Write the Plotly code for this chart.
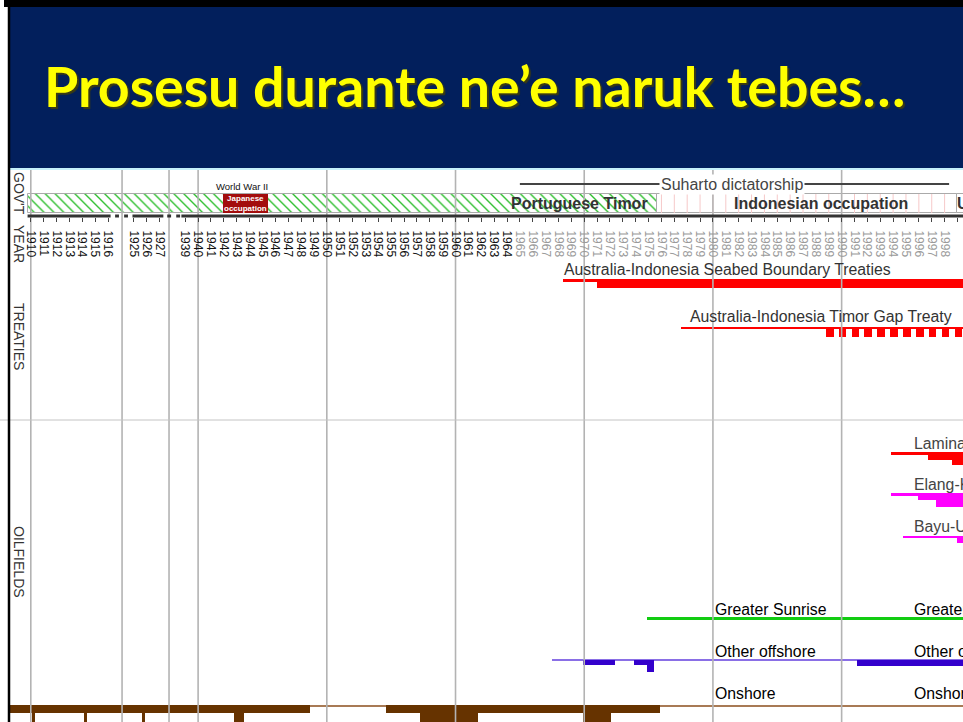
import plotly.graph_objects as go

# ---------------- data ----------------
TITLE = "Prosesu durante ne’e naruk tebes…"

tick_years = [1910, 1911, 1912, 1913, 1914, 1915, 1916,
              1925, 1926, 1927] + list(range(1939, 2000))
grey_from_year = 1965
grid_years = [1910, 1940, 1950, 1960, 1970, 1980, 1990, 2000]

section_labels = ["GOV'T", "YEAR", "TREATIES", "OILFIELDS"]

govt_labels = ["Portuguese Timor", "Indonesian occupation", "U"]
govt_start = [1909.8, 1975.65, 1998.95]
govt_end = [1975.65, 1998.95, 2004.0]

japan_start, japan_end = 1941.9, 1945.45
suharto_start, suharto_end = 1965.0, 1998.35

# treaties (start year, thickness)
seabed_start = [1968.35, 1971.0]
seabed_thick = [3, 9]
timorgap_line_start = 1977.5
timorgap_teeth_start = [1988.77, 1989.77, 1990.77, 1991.77, 1992.77, 1993.77,
                        1994.77, 1995.77, 1996.77, 1997.77, 1998.77]
timorgap_teeth_len = 0.6
timorgap_mark = [1999.7, 2000.05]

# oilfields: step starts and thicknesses
laminaria_start = [1993.8, 1996.7, 1998.6]
laminaria_thick = [3, 8, 13]
elang_start = [1993.8, 1995.9, 1997.3]
elang_thick = [2.7, 6.7, 13.7]
bayu_start = [1994.8, 1999.0]
bayu_thick = [2.3, 7]
sunrise_start = [1974.9]
sunrise_thick = [2.5]
offshore_line_start = 1967.5
offshore_start = [1969.9, 1973.9, 1974.9, 1991.2]
offshore_end = [1972.4, 1975.4, 1975.4, 2004.0]
offshore_thick = [5, 5, 12, 6]
onshore_start = [1905.0, 1910.1, 1914.1, 1925.64, 1942.8, 1954.63, 1957.27, 1969.9]
onshore_end = [1948.7, 1910.3, 1914.35, 1925.88, 1943.6, 1975.89, 1961.78, 1972.1]
onshore_thick = [8, 20, 20, 20, 20, 8, 20, 20]
field_names = ["Greater Sunrise", "Other offshore", "Onshore"]
field_label_years = [1980.1, 1995.6]

END = 2004.0

# ---------------- helpers ----------------
def pos(year):
    """broken time axis: 1910-1916, 1925-1927, 1939-..."""
    if year >= 1939:
        return 12 + (year - 1939)
    if year >= 1925:
        return 8 + (year - 1925)
    return year - 1910

FONT = "Arial, Liberation Sans, sans-serif"
W, H = 963, 722
X0, X1 = -2.393, 72.43
break_lines = [7.09, 10.74]
rows = dict(wwii=186, suharto=184, govt_top=194, govt_h=19, axis=216,
            seabed_txt=269, seabed=279, tg_txt=316, tg=326.7,
            section=420, lam_txt=443, lam=452, elang_txt=484, elang=493.3,
            bayu_txt=526, bayu=536, sunrise_txt=609, sunrise=617,
            off_txt=651, off=659.5, on_txt=693, on=705)
LBL = 15.8  # label font size

def hbars(starts, ends, top, thick, color, line=None, pattern=None):
    m = dict(color=color, line=dict(width=0))
    if line:
        m["line"] = line
    if pattern:
        m["pattern"] = pattern
    return go.Bar(orientation="h",
                  base=[pos(s) for s in starts],
                  x=[pos(e) - pos(s) for s, e in zip(starts, ends)],
                  y=[top] * len(starts), width=list(thick), offset=0,
                  marker=m, hoverinfo="skip", showlegend=False)

fig = go.Figure()

# pink year lines in the Indonesian occupation band
px_, py_ = [], []
for yr in range(1976, 1999):
    px_ += [pos(yr), pos(yr), None]
    py_ += [rows["govt_top"], rows["govt_top"] + rows["govt_h"], None]
fig.add_trace(go.Scatter(x=px_, y=py_, mode="lines", line=dict(color="#f6c9c9", width=1),
                         hoverinfo="skip", showlegend=False))

# vertical grid lines
gx, gy = [], []
for g in [pos(y) for y in grid_years] + break_lines:
    gx += [g, g, None]
    gy += [170, H, None]
fig.add_trace(go.Scatter(x=gx, y=gy, mode="lines", line=dict(color="#b3b3b3", width=1.6),
                         hoverinfo="skip", showlegend=False))

# government bands
fig.add_trace(hbars([govt_start[0]], [govt_end[0]], rows["govt_top"], [rows["govt_h"]],
                    "rgba(0,0,0,0)",
                    line=dict(color="#aaaaaa", width=1),
                    pattern=dict(shape="\\", size=7, solidity=0.2, fillmode="replace",
                                 fgcolor="#2fbf2f", bgcolor="rgba(255,255,255,0)")))
fig.add_trace(hbars(govt_start[1:], govt_end[1:], rows["govt_top"], [rows["govt_h"]] * 2,
                    "rgba(0,0,0,0)", line=dict(color="#aaaaaa", width=1)))
fig.add_trace(hbars([japan_start], [japan_end], rows["govt_top"], [rows["govt_h"]], "#a30d0d"))

# Suharto line
fig.add_trace(go.Scatter(x=[pos(suharto_start), pos(suharto_end)], y=[rows["suharto"]] * 2,
                         mode="lines", line=dict(color="#444444", width=2),
                         hoverinfo="skip", showlegend=False))

# broken axis line
seg = [(-0.25, 6.2), (7.9, 10.3), (11.7, 73.0), (6.55, 6.85), (7.25, 7.55), (10.6, 10.9), (11.3, 11.6)]
ax_, ay_ = [], []
for a, b in seg:
    ax_ += [a, b, None]
    ay_ += [rows["axis"], rows["axis"], None]
fig.add_trace(go.Scatter(x=ax_, y=ay_, mode="lines", line=dict(color="#333333", width=3),
                         hoverinfo="skip", showlegend=False))

# treaties
fig.add_trace(hbars(seabed_start, [END] * 2, rows["seabed"], seabed_thick, "#ff0000"))
fig.add_trace(hbars([timorgap_line_start], [END], rows["tg"], [2.5], "#ff0000"))
fig.add_trace(hbars(timorgap_teeth_start, [s + timorgap_teeth_len for s in timorgap_teeth_start],
                    rows["tg"], [10] * len(timorgap_teeth_start), "#ff0000"))
fig.add_trace(hbars([timorgap_mark[0]], [timorgap_mark[1]], rows["tg"] - 7, [25], "#ff0000"))

# oilfields
fig.add_trace(hbars(laminaria_start, [END] * 3, rows["lam"], laminaria_thick, "#ff0000"))
fig.add_trace(hbars(elang_start, [END] * 3, rows["elang"], elang_thick, "#ff00ff"))
fig.add_trace(hbars(bayu_start, [END] * 2, rows["bayu"], bayu_thick, "#ff00ff"))
fig.add_trace(hbars(sunrise_start, [END], rows["sunrise"], sunrise_thick, "#11cc11"))
fig.add_trace(hbars([offshore_line_start], [END], rows["off"], [1.3], "#8a6fe6"))
fig.add_trace(hbars(offshore_start, offshore_end, rows["off"], offshore_thick, "#3300cc"))
fig.add_trace(hbars([onshore_start[0]], [END], rows["on"], [1.2], "#a87a55"))
fig.add_trace(hbars(onshore_start, onshore_end, rows["on"], onshore_thick, "#663300"))

# ---------------- annotations ----------------
ann = []
def txt(x, y, s, size=LBL, color="#333333", xanchor="left", bold=False, **kw):
    d = dict(x=x, y=y, text=f"<b>{s}</b>" if bold else s, showarrow=False,
             font=dict(family=FONT, size=size, color=color), xanchor=xanchor,
             yanchor="middle")
    d.update(kw)
    ann.append(d)

# title with shadow
ann.append(dict(xref="paper", yref="y", x=42 / W, y=85, text=TITLE, showarrow=False,
                xanchor="left", yanchor="middle",
                font=dict(family="Lato, Open Sans, sans-serif", size=55.5, weight=700,
                          color="#ffff00", shadow="2px 2px 1px #3b3b12")))

# section labels (rotated)
for lab, yc in zip(section_labels, [193, 244, 336, 562]):
    ann.append(dict(xref="paper", yref="y", x=19 / W, y=yc, text=lab, showarrow=False,
                    textangle=90, xanchor="center", yanchor="middle",
                    font=dict(family=FONT, size=14, color="#333333")))

txt(pos(1943.4), rows["wwii"], "World War II", size=9.5, color="#111111", xanchor="center")
txt(pos((japan_start + japan_end) / 2), rows["govt_top"] + rows["govt_h"] / 2,
    "Japanese<br>occupation", size=8, color="#ffffff", xanchor="center", bold=True)
txt(pos(1981.52), rows["suharto"], "Suharto dictatorship", size=16, color="#444444",
    xanchor="center", bgcolor="#ffffff", borderpad=1)
txt(pos(1975.1), rows["govt_top"] + rows["govt_h"] / 2, govt_labels[0], size=16,
    xanchor="right", bold=True)
txt(pos(1988.4), rows["govt_top"] + rows["govt_h"] / 2, govt_labels[1], size=16,
    xanchor="center", bold=True)
txt(pos(govt_start[2]) - 0.15, rows["govt_top"] + rows["govt_h"] / 2, govt_labels[2], size=16,
    bold=True)

txt(pos(seabed_start[0]) - 0.05, rows["seabed_txt"], "Australia-Indonesia Seabed Boundary Treaties")
txt(pos(1978.07), rows["tg_txt"], "Australia-Indonesia Timor Gap Treaty")
txt(pos(1995.5), rows["lam_txt"], "Laminaria-Corallina", color="#444444")
txt(pos(1995.5), rows["elang_txt"], "Elang-Kakatua", color="#444444")
txt(pos(1995.5), rows["bayu_txt"], "Bayu-Undan", color="#444444")
for yr in field_label_years:
    for name, key in zip(field_names, ["sunrise_txt", "off_txt", "on_txt"]):
        txt(pos(yr) - 0.1, rows[key], name, color="#000000")

# ---------------- shapes (frame & header) ----------------
shapes = [
    dict(type="rect", xref="paper", yref="y", x0=0, x1=8 / W, y0=0, y1=H,
         fillcolor="#ffffff", line=dict(width=0)),
    dict(type="line", xref="paper", yref="y", x0=0, x1=1, y0=rows["section"], y1=rows["section"],
         line=dict(color="#c4c4c4", width=1)),
    dict(type="rect", xref="paper", yref="y", x0=4 / W, x1=1, y0=0, y1=7,
         fillcolor="#000000", line=dict(width=0)),
    dict(type="rect", xref="paper", yref="y", x0=9 / W, x1=1, y0=7, y1=168,
         fillcolor="#021f5c", line=dict(width=0)),
    dict(type="rect", xref="paper", yref="y", x0=9 / W, x1=1, y0=168, y1=170,
         fillcolor="#c6f1fb", line=dict(width=0)),
    dict(type="line", xref="paper", yref="y", x0=9 / W, x1=9 / W, y0=0, y1=H,
         line=dict(color="#000000", width=2.5)),
]

ticktext = [str(y) if y < grey_from_year else f"<span style='color:#9a9a9a'>{y}</span>"
            for y in tick_years]

fig.update_layout(
    width=W, height=H, margin=dict(l=0, r=0, t=0, b=0),
    paper_bgcolor="#ffffff", plot_bgcolor="#ffffff",
    barmode="overlay", bargap=0, showlegend=False,
    xaxis=dict(range=[X0, X1], domain=[0, 1], anchor="free", position=1 - (rows["axis"] + 1) / H,
               side="bottom", showgrid=False, zeroline=False, showline=False,
               tickmode="array", tickvals=[pos(y) for y in tick_years], ticktext=ticktext,
               tickangle=90, ticks="outside", ticklen=4, tickcolor="#444444", tickwidth=1,
               ticklabelstandoff=6,
               tickfont=dict(family=FONT, size=12, color="#111111"), fixedrange=True),
    yaxis=dict(range=[H, 0], domain=[0, 1], visible=False, type="linear", fixedrange=True),
    annotations=ann, shapes=shapes,
)

fig.write_html("out.html", config={"displayModeBar": False},
               post_script="document.body.style.margin='0';document.body.style.overflow='hidden';")
